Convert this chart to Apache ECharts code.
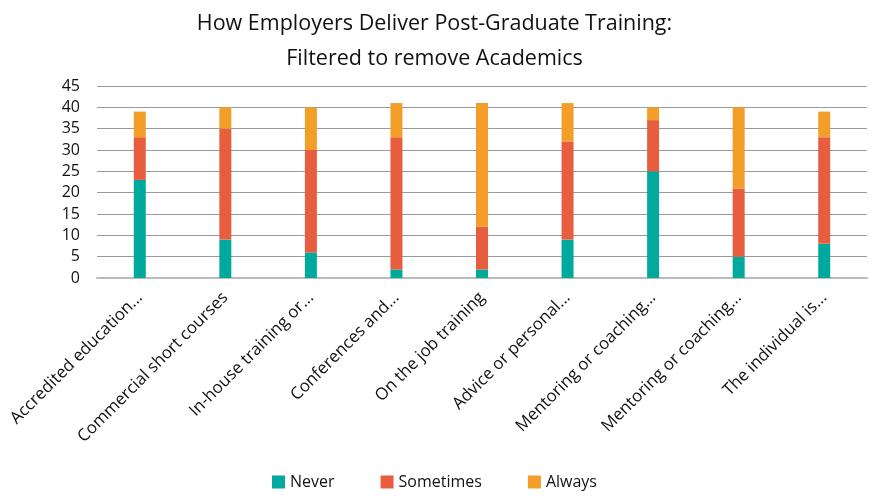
<!DOCTYPE html>
<html><head><meta charset="utf-8">
<script src="https://cdn.jsdelivr.net/npm/echarts@6/dist/echarts.min.js"></script>
<style>html,body{margin:0;padding:0;background:#fff}#c{width:869px;height:503px}</style>
</head><body><div id="c"></div>
<script>
const categories = ["Accredited education...","Commercial short courses","In-house training or...","Conferences and...","On the job training","Advice or personal...","Mentoring or coaching...","Mentoring or coaching...","The individual is..."];
const never = [23, 9, 6, 2, 2, 9, 25, 5, 8];
const sometimes = [10, 26, 24, 31, 10, 23, 12, 16, 25];
const always = [6, 5, 10, 8, 29, 9, 3, 19, 6];
const yTicks = {min: 0, max: 45, interval: 5};
const titleLines = ["How Employers Deliver Post-Graduate Training:", "Filtered to remove Academics"];

const font = '"Open Sans", "Noto Sans", sans-serif';
const chart = echarts.init(document.getElementById('c'));
chart.setOption({
  animation: false,
  title: {text: titleLines.join('\n'), left: 'center', top: 1,
    textStyle: {fontFamily: font, fontSize: 21.5, fontWeight: 'normal', color: '#111', lineHeight: 35}},
  legend: {bottom: 8, left: 'center', itemWidth: 13, itemHeight: 13, itemGap: 46, icon: 'rect',
    textStyle: {fontFamily: font, fontSize: 16, color: '#111'}},
  grid: {left: 97, right: 2, top: 86, bottom: 225, containLabel: false},
  xAxis: {type: 'category', data: categories,
    axisLine: {lineStyle: {color: '#bbb', width: 2}}, axisTick: {show: false},
    axisLabel: {rotate: 45, interval: 0, fontFamily: font, fontSize: 16.8, color: '#111', margin: 17}},
  yAxis: {type: 'value', min: yTicks.min, max: yTicks.max, interval: yTicks.interval,
    axisLine: {show: false}, axisTick: {show: false},
    axisLabel: {fontFamily: font, fontSize: 16, color: '#111', margin: 17},
    splitLine: {lineStyle: {color: '#9a9a9a', width: 1}}},
  series: [
    {name: 'Never', type: 'bar', stack: 't', data: never, barWidth: 12, itemStyle: {color: '#00a99d'}},
    {name: 'Sometimes', type: 'bar', stack: 't', data: sometimes, barWidth: 12, itemStyle: {color: '#e95d3f'}},
    {name: 'Always', type: 'bar', stack: 't', data: always, barWidth: 12, itemStyle: {color: '#f29e29'}}
  ]
});
</script></body></html>
